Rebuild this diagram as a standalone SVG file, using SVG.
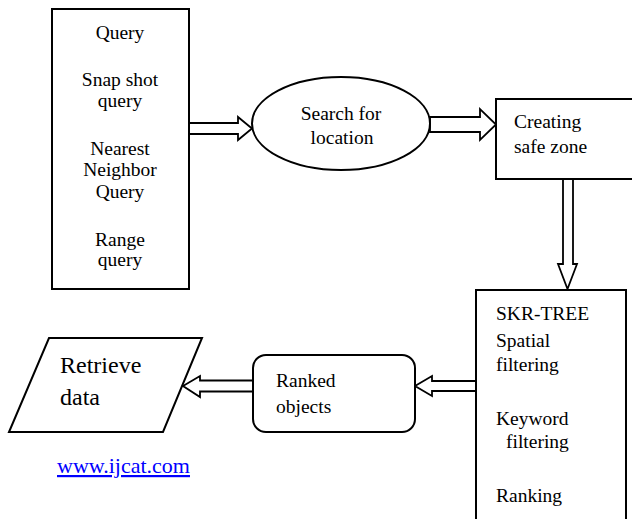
<svg xmlns="http://www.w3.org/2000/svg" width="632" height="519" viewBox="0 0 632 519">
<style>
.shape{fill:#fff;stroke:#000;stroke-width:2}
.arr{fill:#fff;stroke:#000;stroke-width:1.8;stroke-linejoin:miter}
text{font-family:'Liberation Serif','Times New Roman',Times,serif;font-size:19.5px;fill:#000}
.c{text-anchor:middle}
</style>
<rect width="632" height="519" fill="#fff"/>
<g id="connectors">
<polygon class="arr" points="189,123 238,123 238,117 252,128.5 238,140 238,134 189,134"/>
<polygon class="arr" points="430,117 480,117 480,109 496,124.5 480,140 480,132 430,132"/>
<polygon class="arr" points="563,179 563,264 558,264 567.5,289 577,264 573,264 573,179"/>
<polygon class="arr" points="476,381 432,381 432,376 415,386 432,396 432,391 476,391"/>
<polygon class="arr" points="253,380.5 200,380.5 200,376 183,386 200,397 200,391.5 253,391.5"/>
</g>
<g id="query" font-family="Liberation Serif, serif">
<rect class="shape" x="52" y="9" width="137" height="280"/>
<text class="c" x="120" y="39">Query</text>
<text class="c" x="120" y="86">Snap shot</text>
<text class="c" x="120" y="107">query</text>
<text class="c" x="120" y="155">Nearest</text>
<text class="c" x="120" y="176">Neighbor</text>
<text class="c" x="120" y="198">Query</text>
<text class="c" x="120" y="246">Range</text>
<text class="c" x="120" y="266">query</text>
</g>
<g id="search">
<ellipse class="shape" cx="341" cy="123.5" rx="89" ry="46.5"/>
<text class="c" x="341" y="120">Search for</text>
<text class="c" x="342" y="144">location</text>
</g>
<g id="safezone">
<rect class="shape" x="496" y="99" width="140" height="80"/>
<text x="514" y="128">Creating</text>
<text x="514" y="153">safe zone</text>
</g>
<g id="skrtree">
<rect class="shape" x="476" y="290" width="150" height="240"/>
<text x="496" y="320">SKR-TREE</text>
<text x="496" y="347">Spatial</text>
<text x="496" y="371">filtering</text>
<text x="496" y="425">Keyword</text>
<text x="506" y="448">filtering</text>
<text x="496" y="502">Ranking</text>
</g>
<g id="ranked">
<rect class="shape" x="253" y="355" width="162" height="77" rx="13" ry="13"/>
<text x="276" y="387">Ranked</text>
<text x="276" y="413">objects</text>
</g>
<g id="retrieve">
<polygon class="shape" points="49,338 202,338 163,432 9,432"/>
<text x="60" y="373" style="font-size:24px">Retrieve</text>
<text x="60" y="405" style="font-size:24px">data</text>
</g>
<g id="link">
<text x="57" y="473" style="font-size:22px;fill:#0000ff;text-decoration:underline">www.ijcat.com</text>
</g>
</svg>
